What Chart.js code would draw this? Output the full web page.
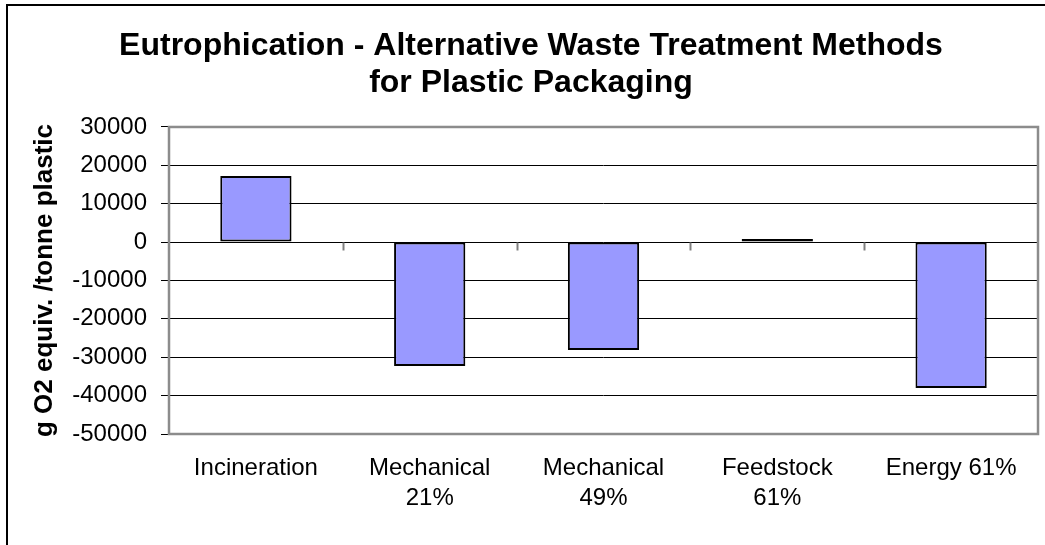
<!DOCTYPE html>
<html>
<head>
<meta charset="utf-8">
<script src="https://cdn.jsdelivr.net/npm/chart.js@4.4.0/dist/chart.umd.min.js"></script>
<style>
  html, body { margin: 0; padding: 0; background: #ffffff; }
  #wrap { width: 1045px; height: 545px; }
</style>
</head>
<body>
<div id="wrap"><canvas id="c" width="1045" height="545"></canvas></div>
<script>
// Treatment methods and their eutrophication result (g O2 equiv. per tonne plastic)
const categories = ['Incineration', ['Mechanical', '21%'], ['Mechanical', '49%'], ['Feedstock', '61%'], 'Energy 61%'];
const eutrophication = [17200, -32300, -28100, 800, -38000];
const yTicks = [30000, 20000, 10000, 0, -10000, -20000, -30000, -40000, -50000];

const titleLines = ['Eutrophication - Alternative Waste Treatment Methods', 'for Plastic Packaging'];
const yTitle = 'g O2 equiv. /tonne plastic';

const FONT = '"Liberation Sans", Arial, sans-serif';

// Frame round the whole chart, plot-area border and the small category ticks on the zero line
const decorations = {
  id: 'decorations',
  beforeDraw(chart) {
    const ctx = chart.ctx;
    ctx.save();
    ctx.fillStyle = '#ffffff';
    ctx.fillRect(0, 0, chart.width, chart.height);
    ctx.strokeStyle = '#000000';
    ctx.lineWidth = 2;
    ctx.strokeRect(7, 5, chart.width + 20, chart.height + 20);
    ctx.restore();
  },
  afterDatasetsDraw(chart) {
    const ctx = chart.ctx;
    const a = chart.chartArea;
    const x = chart.scales.x;
    const y = chart.scales.y;
    const zero = Math.round(y.getPixelForValue(0)) + 0.5;
    ctx.save();
    ctx.strokeStyle = '#808080';
    ctx.lineWidth = 2;
    for (let i = 1; i < categories.length; i++) {
      const px = Math.round((x.getPixelForValue(i - 1) + x.getPixelForValue(i)) / 2) + 0.5;
      ctx.beginPath();
      ctx.moveTo(px, zero);
      ctx.lineTo(px, zero + 8);
      ctx.stroke();
    }
    ctx.strokeStyle = '#8c8c8c';
    ctx.lineWidth = 2.5;
    ctx.strokeRect(a.left, a.top, a.right - a.left, a.bottom - a.top);
    ctx.restore();
  }
};

new Chart(document.getElementById('c'), {
  type: 'bar',
  data: {
    labels: categories,
    datasets: [{
      data: eutrophication,
      backgroundColor: '#9999ff',
      borderColor: '#000000',
      borderWidth: 2,
      borderSkipped: false,
      categoryPercentage: 1.0,
      barPercentage: 0.41
    }]
  },
  options: {
    responsive: false,
    animation: false,
    devicePixelRatio: 1,
    layout: { padding: { left: 24, right: 7, top: 0, bottom: 0 } },
    plugins: {
      legend: { display: false },
      tooltip: { enabled: false },
      title: {
        display: true,
        text: titleLines,
        color: '#000000',
        font: { family: FONT, size: 32, weight: 'bold', lineHeight: 1.156 },
        padding: { top: 28, bottom: 25 }
      }
    },
    scales: {
      x: {
        type: 'category',
        grid: { display: false, drawTicks: false },
        border: { display: false },
        ticks: {
          color: '#000000',
          font: { family: FONT, size: 24, lineHeight: 1.25 },
          padding: 19,
          maxRotation: 0,
          autoSkip: false
        },
        afterFit(scale) { scale.height = 111; }
      },
      y: {
        min: -50000,
        max: 30000,
        afterBuildTicks(scale) { scale.ticks = yTicks.map(v => ({ value: v })); },
        grid: {
          color: '#000000',
          lineWidth: 1,
          drawTicks: true,
          tickLength: 8,
          tickColor: '#000000'
        },
        border: { display: false },
        ticks: {
          color: '#000000',
          font: { family: FONT, size: 24 },
          padding: 14,
          callback: v => String(v)
        },
        title: {
          display: true,
          text: yTitle,
          color: '#000000',
          font: { family: FONT, size: 26, weight: 'bold', lineHeight: 1.2 },
          padding: { top: 5, bottom: 0 }
        },
        afterFit(scale) { scale.width = 145; }
      }
    }
  },
  plugins: [decorations]
});
</script>
</body>
</html>
